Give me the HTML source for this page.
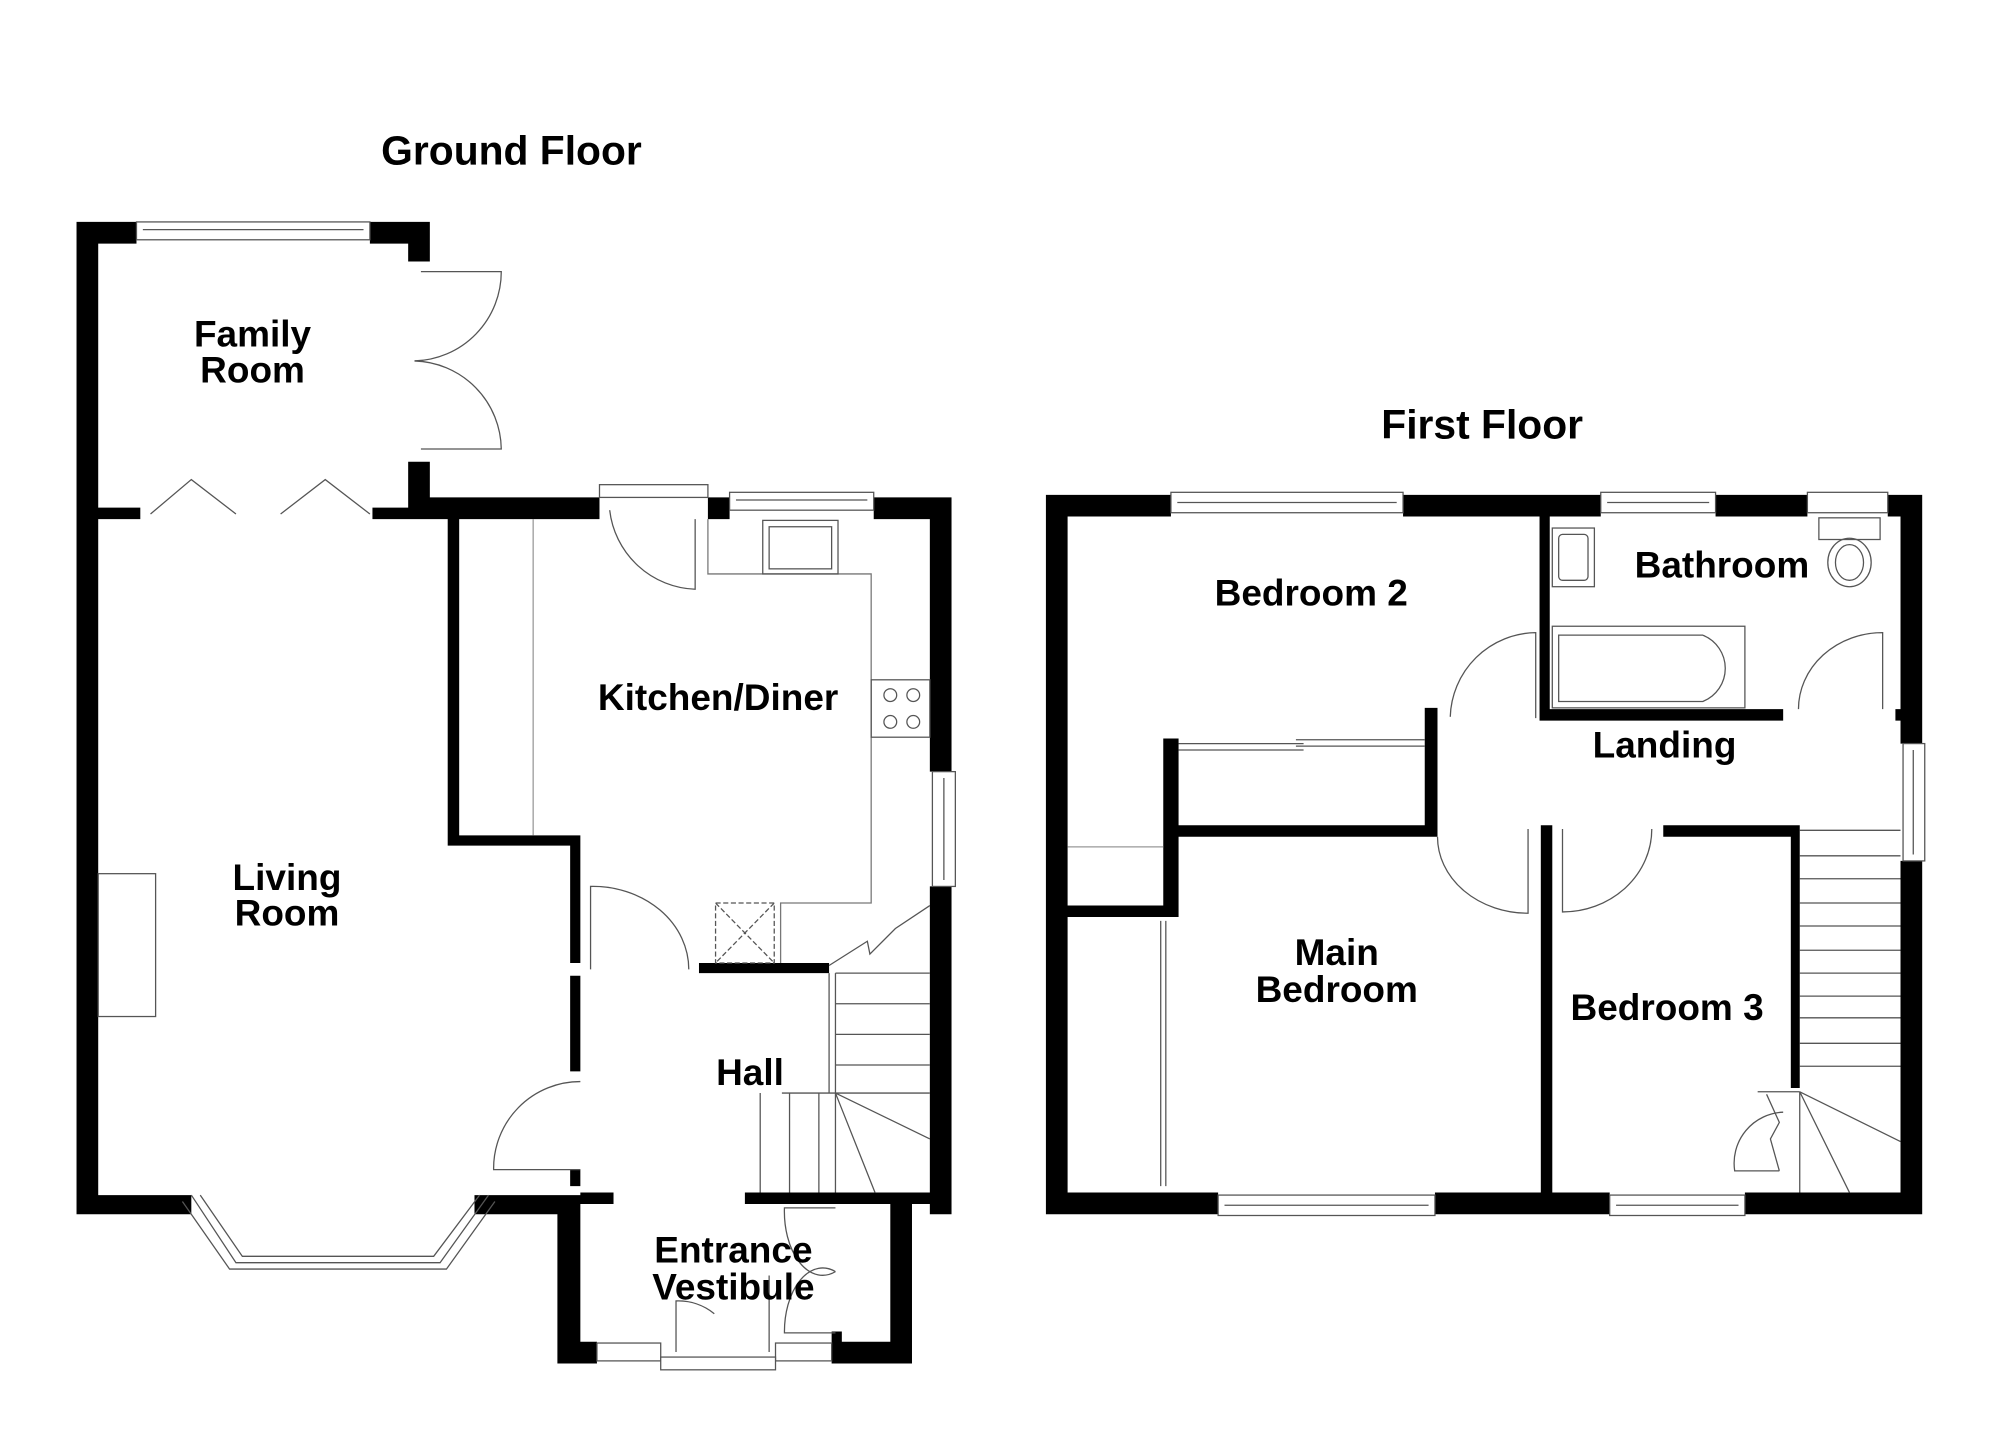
<!DOCTYPE html>
<html><head><meta charset="utf-8"><style>
html,body{margin:0;padding:0;background:#fff;}
svg{display:block;}
text{font-family:"Liberation Sans",Arial,sans-serif;font-weight:bold;fill:#000;}
</style></head><body>
<svg width="2000" height="1454" viewBox="0 0 1568 1140" preserveAspectRatio="none" xmlns="http://www.w3.org/2000/svg">
<rect x="0" y="0" width="1568" height="1140" fill="#fff"/>
<path fill="#000" d="M60 174h17v778h-17z M60 174h47v17h-47z M290 174h47v17h-47z M320 191h17v14h-17z M320 362h17v45h-17z M77 398h33v9h-33z M292 398h45v9h-45z M337 390h133v17h-133z M555 390h17v17h-17z M685 390h61v17h-61z M729 390h17v215h-17z M729 695h17v257h-17z M351 407h9v256h-9z M351 655h104v8h-104z M447 655h8v100h-8z M447 765h8v75h-8z M447 917h8v13h-8z M60 937h90v15h-90z M372 937h83v15h-83z M455 935h26v9h-26z M584 935h162v9h-162z M698 944h17v125h-17z M437 944h18v125h-18z M437 1052h31v17h-31z M652 1052h63v17h-63z M652 1044h8v10h-8z M548 755h102v8h-102z"/>
<path fill="#000" d="M820 388h17v564h-17z M1490 388h17v195h-17z M1490 675h17v277h-17z M820 388h98v17h-98z M1100 388h155v17h-155z M1345 388h72v17h-72z M1480 388h27v17h-27z M820 935h135v17h-135z M1125 935h137v17h-137z M1368 935h139v17h-139z M1207 405h8v160h-8z M1207 556h191v9h-191z M1486 556h21v9h-21z M1117 555h10v101h-10z M916 647h211v9h-211z M912 579h12v140h-12z M837 710h87v9h-87z M1208 647h9v288h-9z M1304 647h107v9h-107z M1404 647h7v206h-7z"/>
<g fill="#fff" stroke="#555" stroke-width="1">
<rect x="107" y="174" width="183" height="14"/>
<rect x="572" y="386" width="113" height="14"/>
<rect x="470" y="380" width="85" height="10"/>
<rect x="731" y="605" width="18" height="90"/>
<rect x="468" y="1053" width="50" height="14"/>
<rect x="608" y="1053" width="44" height="14"/>
<rect x="518" y="1064" width="90" height="10"/>
<rect x="918" y="386" width="182" height="16"/>
<rect x="1255" y="386" width="90" height="16"/>
<rect x="1417" y="386" width="63" height="16"/>
<rect x="955" y="937" width="170" height="16"/>
<rect x="1262" y="937" width="106" height="16"/>
<rect x="1492" y="583" width="17" height="92"/>
</g>
<g fill="none" stroke="#555" stroke-width="1">
<path d="M112 180H285 M577 392H680 M740 610V690 M923 394H1095 M1260 394H1340 M960 945H1120 M1267 945H1363 M1500 588V670"/>
<polyline points="150,937 185,990 345,990 383,937"/>
<polyline points="143,942 180,995 350,995 388,942"/>
<polyline points="157,937 190,985 340,985 376,937"/>
<polyline points="118,403 150,376 185,403"/><polyline points="220,403 255,376 290,403"/>
<path d="M330,213 H393 A70,70 0 0 1 325,283"/>
<path d="M330,352 H393 A70,70 0 0 0 325,283"/>
<path d="M545,407 V462 A70,70 0 0 1 478,400"/>
<path d="M463,760 V695 A75,65 0 0 1 540,760"/>
<path d="M455,917 H387 A68,68 0 0 1 455,848"/>
<path d="M530,1060 V1020 A45,45 0 0 1 560,1030"/>
<path d="M655,947 H615 A30,50 0 0 0 655,997 M655,1045 H615 A30,50 0 0 1 655,997 M603 1000V1060"/>
<path d="M418 407V655" stroke="#999"/>
<polyline points="555,407 555,450 683,450 683,708 612,708 612,755" stroke="#777"/>
<rect x="598" y="408" width="59" height="42"/><rect x="603" y="413" width="49" height="33"/>
<rect x="683" y="533" width="46" height="45"/>
<circle cx="698" cy="545" r="5"/><circle cx="716" cy="545" r="5"/><circle cx="698" cy="566" r="5"/><circle cx="716" cy="566" r="5"/>
<path d="M561 708h46v47h-46z M561 708L607 755 M607 708L561 755" stroke-dasharray="4,2"/>
<rect x="77" y="685" width="45" height="112"/>
<polyline points="650,757 680,738 682,748 702,728 729,710"/>
<path d="M650 763V857 M655 763V935 M655 763H729 M655 787H729 M655 811H729 M655 835H729 M613 857H729 M655 857L729 893 M655 857L686 935 M596 857V935 M619 857V935 M642 857V935"/>
<path d="M1204,563 V496 A68,68 0 0 0 1137,562"/>
<path d="M1476,556 V496 A66,60 0 0 0 1410,556"/>
<path d="M1127,656 A71,60 0 0 0 1198,716 V650"/>
<path d="M1225,650 V715 A70,65 0 0 0 1295,650"/>
<path d="M924 583H1022 M924 588H1022 M1016 580H1117 M1016 585H1117 M910 722V930 M914 722V930"/>
<path d="M837 664H912" stroke="#999"/>
<rect x="1217" y="414" width="33" height="46"/><rect x="1222" y="419" width="23" height="36" rx="3"/>
<rect x="1426" y="406" width="48" height="17"/>
<ellipse cx="1450" cy="441" rx="17" ry="19"/><ellipse cx="1450" cy="441" rx="11" ry="14"/>
<rect x="1217" y="491" width="151" height="64"/>
<path d="M1222,498 H1335 A28,28 0 0 1 1335,550 H1222 Z"/>
<path d="M1411 651H1490 M1411 671H1490 M1411 689H1490 M1411 708H1490 M1411 726H1490 M1411 745H1490 M1411 763H1490 M1411 781H1490 M1411 798H1490 M1411 818H1490 M1411 836H1490 M1411 856L1490 895 M1411 856L1450 935 M1411 856V935 M1378 856H1411"/>
<path d="M1395,918 H1360 A40,40 0 0 1 1398,872 M1385,858 L1395,880 L1388,893 L1395,918"/>
</g>
<g font-size="29" text-anchor="middle" dominant-baseline="central">
<text x="401" y="118" font-size="32">Ground Floor</text>
<text x="198" y="262">Family</text><text x="198" y="290">Room</text>
<text x="563" y="547">Kitchen/Diner</text>
<text x="225" y="688">Living</text><text x="225" y="716">Room</text>
<text x="588" y="841">Hall</text>
<text x="575" y="980">Entrance</text><text x="575" y="1009">Vestibule</text>
<text x="1162" y="333" font-size="32">First Floor</text>
<text x="1028" y="465">Bedroom 2</text>
<text x="1350" y="443">Bathroom</text>
<text x="1305" y="584">Landing</text>
<text x="1048" y="747">Main</text><text x="1048" y="776">Bedroom</text>
<text x="1307" y="790">Bedroom 3</text>
</g>
</svg>
</body></html>
